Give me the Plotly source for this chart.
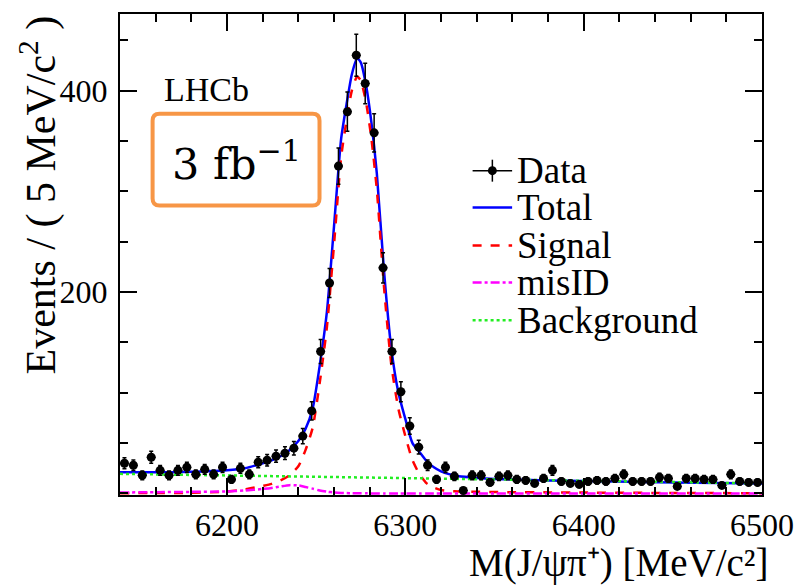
import numpy as np
import plotly.graph_objects as go

# Histogram binning: 5 MeV/c^2 bins from 6140 to 6500
BIN_LO, BIN_HI, BIN_W = 6140.0, 6500.0, 5.0

# Events per bin
counts = [
    30, 28, 18, 36, 23, 18, 23, 26, 19, 24, 19, 26, 14, 25, 19, 31, 33, 37, 40, 45, 57, 82,
    141, 209, 325, 379, 435, 407, 358, 224, 141, 101, 67,
    46, 28, 14, 26, 17, 3, 18, 18, 11, 17, 18, 14, 13, 10, 15, 23, 12, 10, 9, 12,
    13, 12, 15, 19, 12, 12, 12, 16, 15, 7, 15, 15, 14, 14, 8, 19, 12, 11, 11,
]

# Fit components sampled along the mass axis
fit_mass = [6140, 6160, 6180, 6200, 6210, 6220, 6225, 6230, 6235, 6240, 6244, 6248, 6252,
            6256, 6260, 6264, 6267, 6270, 6273, 6275, 6278, 6281, 6284, 6288, 6292, 6296,
            6300, 6304, 6308, 6312, 6316, 6320, 6325, 6330, 6340, 6350, 6360, 6380, 6400,
            6450, 6500]
total = [21, 21, 21.5, 23, 25, 30, 33, 37, 43, 52, 64, 84, 127, 180, 265, 352, 386, 416,
         432, 428, 405, 368, 318, 222, 146, 101, 74, 50, 41, 32, 26, 22, 19, 17, 15.5,
         14.5, 14, 13, 12.3, 11, 10]
signal = [0.3, 0.5, 0.7, 2, 4, 7.5, 9.5, 13, 18, 27, 43, 65, 110, 165, 247, 334, 370, 400,
          414, 410, 388, 352, 302, 206, 130, 85, 57, 33, 19, 10, 6, 3.5, 2.5, 2, 1.7, 1.5,
          1.3, 1.1, 0.9, 0.5, 0.3]
misid = [1, 1.3, 1.6, 2, 3, 4.5, 5.5, 7, 8.3, 8, 6.5, 4.8, 3, 1.8, 1, 0.6, 0.4, 0.3, 0.2,
         0.2, 0.15, 0.1, 0.1, 0.05, 0, 0, 0, 0, 0, 0, 0, 0, 0, 0, 0, 0, 0, 0, 0, 0, 0]
bkg_mass = [6140, 6500]
background = [19.5, 10]

x_ticks = [6200, 6300, 6400, 6500]
y_ticks = [200, 400]

centers = np.arange(BIN_LO + BIN_W / 2, BIN_HI, BIN_W)
errors = np.sqrt(np.array(counts, dtype=float))

SERIF = "Liberation Serif"
BLUE, RED, MAGENTA, GREEN = "#0000ff", "#ff0000", "#ff00ff", "#22ee22"

fig = go.Figure()

fig.add_trace(go.Scatter(
    x=fit_mass, y=total, mode="lines", name="Total", showlegend=False,
    line=dict(color=BLUE, width=2.5, shape="spline", smoothing=0.6),
))
fig.add_trace(go.Scatter(
    x=fit_mass, y=signal, mode="lines", name="Signal", showlegend=False,
    line=dict(color=RED, width=2.5, dash="dash", shape="spline", smoothing=0.6),
))
fig.add_trace(go.Scatter(
    x=fit_mass, y=misid, mode="lines", name="misID", showlegend=False,
    line=dict(color=MAGENTA, width=2.5, dash="dashdot", shape="spline", smoothing=0.6),
))
fig.add_trace(go.Scatter(
    x=bkg_mass, y=background, mode="lines", name="Background", showlegend=False,
    line=dict(color=GREEN, width=2.5, dash="dot"),
))
fig.add_trace(go.Scatter(
    x=centers, y=counts, mode="markers", name="Data", showlegend=False,
    marker=dict(color="black", size=9),
    error_y=dict(type="data", array=errors, color="black", thickness=1.5, width=2),
    error_x=dict(type="constant", value=BIN_W / 2, color="black", thickness=1, width=0),
))

axis_common = dict(
    showline=True, linecolor="black", linewidth=2, mirror="ticks",
    ticks="inside", tickcolor="black", tickwidth=2, ticklen=17,
    showgrid=False, zeroline=False,
    tickfont=dict(family=SERIF, size=32, color="black"),
)
fig.update_xaxes(
    range=[BIN_LO, BIN_HI], tickvals=x_ticks, ticklabelstandoff=1,
    minor=dict(dtick=20, ticks="inside", ticklen=8, tickwidth=2, tickcolor="black", showgrid=False),
    **axis_common,
)
fig.update_yaxes(
    range=[-1.5, 476], tickvals=y_ticks, ticklabelstandoff=4,
    minor=dict(dtick=50, tick0=0, ticks="inside", ticklen=8, tickwidth=2, tickcolor="black", showgrid=False),
    **axis_common,
)

# Plot area in pixels: x 120..770, y 13..495
L, R, T, B = 120, 36, 13, 91
W, H = 806, 586
pw, ph = W - L - R, H - T - B


def px_x(p):
    return (p - L) / pw


def px_y(p):
    return (H - B - p) / ph


# Rounded luminosity box
x0, x1, y0, y1 = px_x(153), px_x(322), px_y(205), px_y(113)
rx, ry = 7 / pw, 7 / ph
box_path = (
    f"M {x0 + rx},{y0} L {x1 - rx},{y0} Q {x1},{y0} {x1},{y0 + ry} "
    f"L {x1},{y1 - ry} Q {x1},{y1} {x1 - rx},{y1} L {x0 + rx},{y1} "
    f"Q {x0},{y1} {x0},{y1 - ry} L {x0},{y0 + ry} Q {x0},{y0} {x0 + rx},{y0} Z"
)
fig.add_shape(type="path", path=box_path, xref="paper", yref="paper",
              line=dict(color="#f79646", width=4), fillcolor="white", layer="above")

fig.add_annotation(x=px_x(238), y=px_y(160), xref="paper", yref="paper",
                   xanchor="center", yanchor="middle",
                   text="3 fb<sup>−1</sup>", showarrow=False,
                   font=dict(family="DejaVu Serif", size=43, color="black"))
fig.add_annotation(x=px_x(163), y=px_y(89), xref="paper", yref="paper",
                   xanchor="left", yanchor="middle", text="LHCb", showarrow=False,
                   font=dict(family=SERIF, size=34, color="black"))

# Axis titles (ROOT style, aligned to the far end of each axis)
fig.add_annotation(x=px_x(778), y=px_y(563), xref="paper", yref="paper",
                   xanchor="right", yanchor="middle", showarrow=False,
                   height=44, valign="middle",
                   text="M(J/ψπ⁺) [MeV/c²]",
                   font=dict(family=SERIF, size=39, color="black"))
fig.add_annotation(x=px_x(37), y=1.0, xref="paper", yref="paper",
                   xanchor="center", yanchor="top", textangle=-90, showarrow=False,
                   text="Events / ( 5 MeV/c<sup>2</sup> )",
                   font=dict(family=SERIF, size=42, color="black"))

# Legend drawn as keys + labels
LEG_X0, LEG_X1, LEG_TXT = 477, 517, 520
rows = [("Data", 170), ("Total", 207), ("Signal", 245), ("misID", 282), ("Background", 320)]
keys = {
    "Total": dict(color=BLUE, width=2.5, dash="solid"),
    "Signal": dict(color=RED, width=2.5, dash="dash"),
    "misID": dict(color=MAGENTA, width=2.5, dash="dashdot"),
    "Background": dict(color=GREEN, width=2.5, dash="dot"),
}
for label, ry_px in rows:
    yp = px_y(ry_px)
    if label == "Data":
        fig.add_shape(type="line", xref="paper", yref="paper",
                      x0=px_x(LEG_X0), x1=px_x(LEG_X1), y0=yp, y1=yp,
                      line=dict(color="black", width=1.5))
        xm = (LEG_X0 + LEG_X1) / 2
        fig.add_shape(type="line", xref="paper", yref="paper",
                      x0=px_x(xm), x1=px_x(xm), y0=px_y(ry_px - 11), y1=px_y(ry_px + 11),
                      line=dict(color="black", width=1.5))
        fig.add_shape(type="circle", xref="paper", yref="paper",
                      x0=px_x(xm - 4.5), x1=px_x(xm + 4.5),
                      y0=px_y(ry_px + 4.5), y1=px_y(ry_px - 4.5),
                      fillcolor="black", line=dict(color="black", width=0))
    else:
        fig.add_shape(type="line", xref="paper", yref="paper",
                      x0=px_x(LEG_X0), x1=px_x(LEG_X1), y0=yp, y1=yp, line=keys[label])
    fig.add_annotation(x=px_x(LEG_TXT), y=yp, xref="paper", yref="paper",
                       xanchor="left", yanchor="middle", text=label, showarrow=False,
                       font=dict(family=SERIF, size=37, color="black"))

fig.update_layout(
    width=W, height=H,
    margin=dict(l=L, r=R, t=T, b=B),
    paper_bgcolor="white", plot_bgcolor="white",
    showlegend=False,
)

fig.write_html("out.html")
